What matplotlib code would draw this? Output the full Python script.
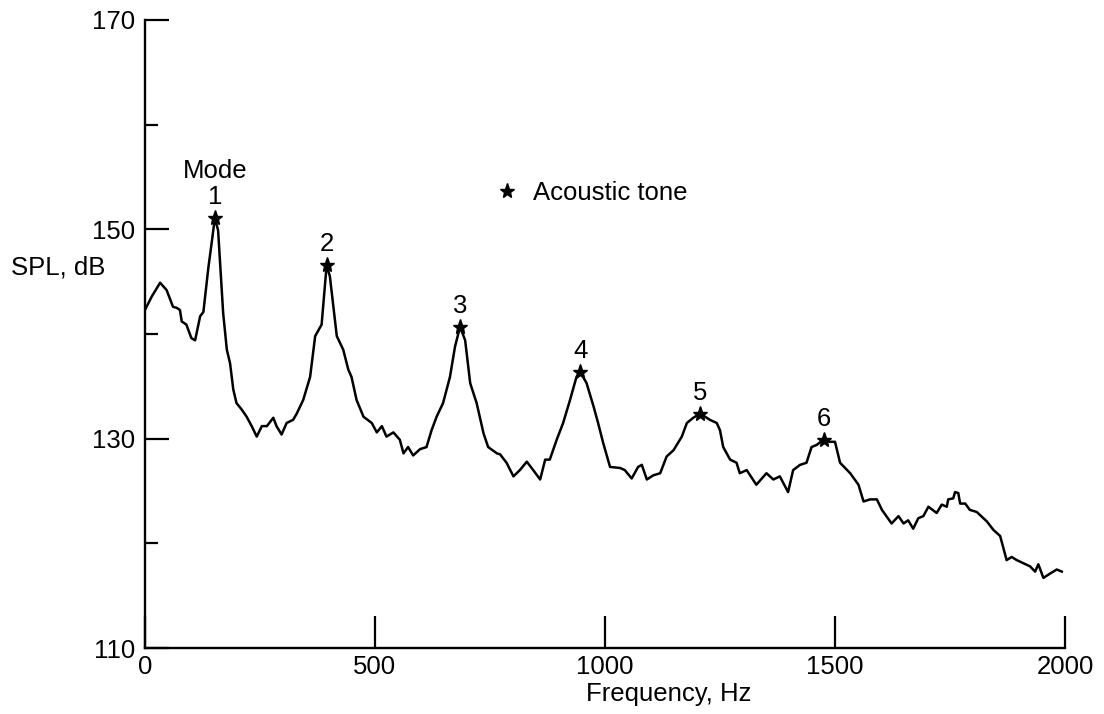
import matplotlib.pyplot as plt
import numpy as np

plt.rcParams['font.family'] = ['Liberation Sans', 'DejaVu Sans']

# Espectro (frecuencia en Hz, nivel en dB)
freq = [0, 15, 33, 47, 61, 69, 76, 80, 90, 101, 109, 120, 127, 138, 145, 152, 159, 170,
        178, 185, 192, 199, 210, 221, 232, 243, 254, 265, 272, 279, 286, 297, 308, 322,
        330, 344, 359, 370, 384, 395, 402, 417, 431, 442, 449, 460, 475, 493, 504, 515,
        525, 540, 554, 562, 572, 583, 598, 612, 623, 634, 648, 663, 674, 685, 696, 707,
        721, 736, 746, 765, 772, 786, 801, 815, 830, 844, 859, 870, 880, 895, 909, 924,
        938, 946, 960, 975, 985, 996, 1011, 1033, 1043, 1058, 1072, 1080, 1091, 1105,
        1120, 1134, 1149, 1167, 1178, 1192, 1207, 1228, 1243, 1250, 1257, 1272, 1286,
        1293, 1308, 1329, 1351, 1366, 1380, 1398, 1409, 1424, 1438, 1449, 1460, 1475,
        1489, 1500, 1511, 1533, 1551, 1562, 1576, 1591, 1602, 1623, 1638, 1649, 1659,
        1670, 1681, 1692, 1703, 1721, 1732, 1743, 1746, 1757, 1761, 1768, 1772, 1783,
        1793, 1808, 1830, 1844, 1859, 1873, 1884, 1895, 1924, 1935, 1942, 1953, 1967,
        1982, 1993]
spl = [142.3, 143.6, 144.9, 144.2, 142.6, 142.5, 142.3, 141.2, 140.9, 139.6, 139.4, 141.7,
       142.1, 146.4, 148.7, 151.1, 149.9, 142.0, 138.5, 137.2, 134.7, 133.4, 132.8, 132.1,
       131.2, 130.2, 131.2, 131.2, 131.6, 132.0, 131.2, 130.4, 131.5, 131.8, 132.4, 133.7,
       135.9, 139.8, 140.9, 146.6, 145.5, 139.8, 138.5, 136.6, 135.9, 133.7, 132.1, 131.5,
       130.6, 131.2, 130.2, 130.6, 129.9, 128.6, 129.2, 128.4, 129.0, 129.2, 130.8, 132.1,
       133.4, 135.9, 138.8, 140.7, 139.4, 135.3, 133.4, 130.5, 129.2, 128.6, 128.5, 127.7,
       126.4, 127.0, 127.8, 127.0, 126.1, 128.0, 128.0, 129.9, 131.5, 133.7, 135.9, 136.4,
       135.3, 133.1, 131.5, 129.6, 127.3, 127.2, 127.0, 126.2, 127.3, 127.5, 126.1, 126.5,
       126.7, 128.3, 128.9, 130.2, 131.5, 132.0, 132.4, 131.8, 131.5, 130.8, 129.2, 128.0,
       127.7, 126.7, 127.0, 125.6, 126.7, 126.1, 126.4, 124.9, 127.0, 127.5, 127.7, 129.2,
       129.4, 129.9, 129.7, 129.7, 127.7, 126.7, 125.6, 124.0, 124.2, 124.2, 123.2, 121.9,
       122.6, 121.9, 122.2, 121.4, 122.4, 122.6, 123.5, 122.9, 123.7, 123.5, 124.2, 124.3,
       124.9, 124.8, 123.8, 123.8, 123.2, 123.0, 122.1, 121.3, 120.7, 118.4, 118.7, 118.4,
       117.8, 117.3, 118.0, 116.7, 117.1, 117.5, 117.3]

# Tonos acústicos (modos)
tone_freq = [152, 395, 685, 946, 1207, 1475]
tone_spl = [151.1, 146.6, 140.7, 136.4, 132.4, 129.9]
tone_mode = ['1', '2', '3', '4', '5', '6']

fs = 18.5

fig = plt.figure(figsize=(11.04, 7.14), dpi=100)
ax = fig.add_axes([0.1313, 0.0924, 0.8334, 0.8796])

ax.plot(freq, spl, color='black', linewidth=1.8)
ax.plot(tone_freq, tone_spl, linestyle='none', marker='*', markersize=11,
        color='black', label='Acoustic tone')

for f, s, m in zip(tone_freq, tone_spl, tone_mode):
    ax.annotate(m, (f, s), xytext=(0, 15), textcoords='offset points',
                ha='center', va='center', fontsize=fs)
ax.annotate('Mode', (tone_freq[0], tone_spl[0]), xytext=(0, 34), textcoords='offset points',
            ha='center', va='center', fontsize=fs)

ax.set_xlim(0, 2000)
ax.set_ylim(110, 170)
ax.spines['top'].set_visible(False)
ax.spines['right'].set_visible(False)
for sp in ['left', 'bottom']:
    ax.spines[sp].set_linewidth(1.7)

ax.set_xticks([0, 500, 1000, 1500, 2000])
ax.set_yticks([110, 130, 150, 170])
ax.set_yticks([120, 140, 160], minor=True)
ax.tick_params(axis='x', direction='in', length=23, width=1.6, pad=5, labelsize=fs)
ax.tick_params(axis='y', which='major', direction='in', length=17, width=1.6, pad=7, labelsize=fs)
ax.tick_params(axis='y', which='minor', direction='in', length=9.5, width=1.6)

ax.text(0.569, -0.0735, 'Frequency, Hz', transform=ax.transAxes, ha='center', va='center',
        fontsize=fs)
fig.text(0.0525, 0.626, 'SPL, dB', ha='center', va='center', fontsize=fs)

ax.legend(loc='center left', bbox_to_anchor=(0.38, 0.7245), frameon=False, fontsize=fs,
          handlelength=1, handletextpad=0.5, borderpad=0, borderaxespad=0)

fig.savefig('out.png', dpi=100)
